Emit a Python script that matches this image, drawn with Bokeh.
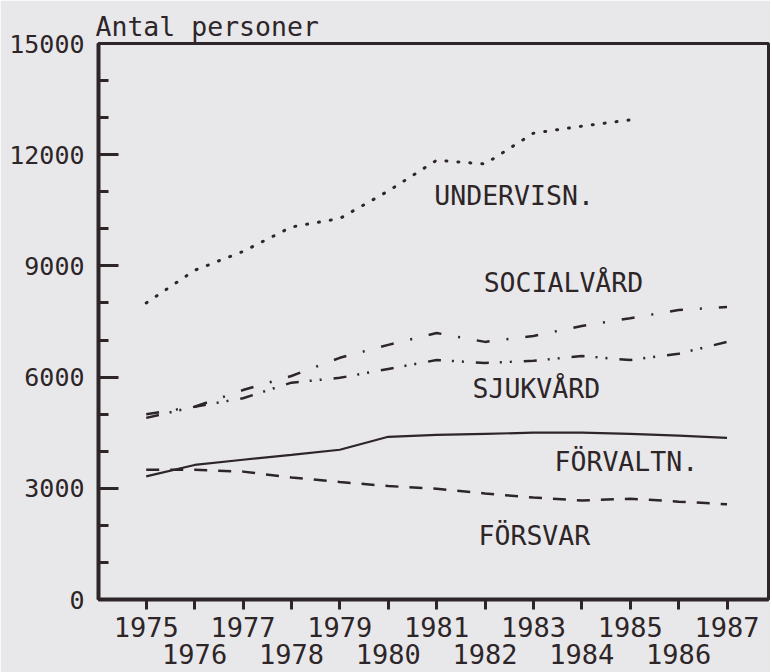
from bokeh.plotting import figure
from bokeh.models import FixedTicker, Range1d
from bokeh.core.properties import value
from bokeh.embed import file_html
from bokeh.resources import INLINE

# ---- data ----
years = [1975, 1976, 1977, 1978, 1979, 1980, 1981, 1982, 1983, 1984, 1985, 1986, 1987]
undervisn_years = [1975, 1976, 1977, 1978, 1979, 1980, 1981, 1982, 1983, 1984, 1985]
undervisn = [8000, 8880, 9390, 10050, 10280, 11020, 11850, 11750, 12580, 12770, 12940]
socialvard = [5000, 5200, 5650, 6030, 6520, 6870, 7190, 6950, 7110, 7380, 7590, 7810, 7890]
sjukvard = [4900, 5200, 5430, 5850, 5980, 6220, 6460, 6380, 6440, 6570, 6460, 6630, 6950]
forvaltn = [3320, 3630, 3770, 3900, 4040, 4390, 4440, 4470, 4500, 4500, 4470, 4420, 4360]
forsvar = [3500, 3500, 3450, 3290, 3170, 3060, 2990, 2860, 2750, 2670, 2720, 2640, 2570]

y_major = [0, 3000, 6000, 9000, 12000, 15000]
y_minor = [1000, 2000, 4000, 5000, 7000, 8000, 10000, 11000, 13000, 14000]

label_text = ["UNDERVISN.", "SOCIALVÅRD", "SJUKVÅRD", "FÖRVALTN.", "FÖRSVAR"]
label_x = [1982.6, 1983.62, 1983.06, 1984.92, 1983.02]
label_y = [10900, 8540, 5680, 3720, 1720]

INK = "#2d2527"
PAPER = "#e8e8ea"
FONT = "DejaVu Sans Mono"

p = figure(width=770, height=672,
           x_range=Range1d(1974.014, 1987.857), y_range=Range1d(0, 15000),
           output_backend="svg", toolbar_location=None,
           min_border_left=98, min_border_top=43, min_border_right=2,
           min_border_bottom=72)

p.background_fill_color = PAPER
p.border_fill_color = PAPER
p.outline_line_color = INK
p.outline_line_width = 3
p.xgrid.visible = False
p.ygrid.visible = False

p.title.text = "Antal personer"
p.title.text_font = FONT
p.title.text_font_size = "26.5px"
p.title.text_font_style = "normal"
p.title.text_color = INK
p.title.align = "left"
p.title.standoff = 4
p.title.offset = -3

# y axis
ya = p.yaxis[0]
ya.ticker = FixedTicker(ticks=y_major, minor_ticks=y_minor)
ya.axis_line_color = INK
ya.axis_line_width = 4
ya.major_tick_in = 20
ya.major_tick_out = 0
ya.minor_tick_in = 10
ya.minor_tick_out = 0
ya.major_tick_line_color = INK
ya.major_tick_line_width = 3
ya.minor_tick_line_color = INK
ya.minor_tick_line_width = 3
ya.major_label_standoff = 14
ya.major_label_text_font = FONT
ya.major_label_text_font_size = "25px"
ya.major_label_text_color = INK

# x axis with alternating label rows
xa = p.xaxis[0]
xa.ticker = FixedTicker(ticks=years, minor_ticks=[])
xa.major_label_overrides = {yr: (str(yr) if yr % 2 == 1 else "\n" + str(yr)) for yr in years}
xa.axis_line_color = INK
xa.axis_line_width = 4
xa.major_tick_in = 0
xa.major_tick_out = 10
xa.major_tick_line_color = INK
xa.major_tick_line_width = 3
xa.minor_tick_line_color = None
xa.major_label_standoff = 2
xa.major_label_text_font = FONT
xa.major_label_text_font_size = "27px"
xa.major_label_text_line_height = 0.88
xa.major_label_text_color = INK

# series
p.line(undervisn_years, undervisn, line_color=INK, line_width=3, line_dash="1 11", line_cap="round")
p.line(years, socialvard, line_color=INK, line_width=2.5, line_dash="13 17 2 17")
p.line(years, sjukvard, line_color=INK, line_width=2.5, line_dash="13 11 2 8 2 12")
p.line(years, forvaltn, line_color=INK, line_width=2.2)
p.line(years, forsvar, line_color=INK, line_width=2.5, line_dash="13 11")

p.text(x=label_x, y=label_y, text=label_text, text_font=value(FONT), text_font_size="26.5px",
       text_align="center", text_baseline="middle", text_color=INK)

open("out.html", "w").write(file_html(p, INLINE))
